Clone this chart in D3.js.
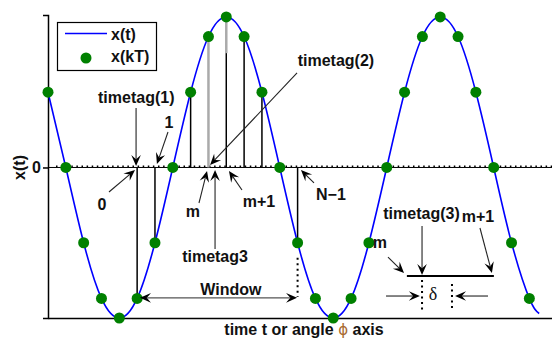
<!DOCTYPE html>
<html><head><meta charset="utf-8">
<script src="https://cdn.jsdelivr.net/npm/d3@7"></script>
<style>
html,body{margin:0;padding:0;background:#fff;}
svg{display:block;}
text{font-family:"Liberation Sans",Arial,Helvetica,sans-serif;font-weight:bold;font-size:16px;fill:#111;}
</style></head><body>
<svg id="c" width="552" height="340"></svg>
<script>
// ---- data (sample index k, value x(kT)) ----
const sampleIdx = [-10,-9,-8,-7,-6,-5,-4,-3,-2,-1,0,1,2,3,4,5,6,7,8,9,10,11,12,13,14,15,16,17];
const sampleVal = [0.5,0,-0.5,-0.87,-1,-0.87,-0.5,0,0.5,0.87,1,0.87,0.5,0,-0.5,-0.87,-1,-0.87,-0.5,0,0.5,0.87,1,0.87,0.5,0,-0.5,-0.87];
const curveEndIdx = [17.55];
const curveEndVal = [-0.97];
const stemIdx = [-5,-4,-2,-1,0,1,2,4];
const grayStemIdx = [-1];
const peakGrayFrom = [0.76];
const yTickValues = [0];
const yTickLabels = ["0"];
const legendLabels = ["x(t)", "x(kT)"];
const xDomain = [-10, 18.27];
const yDomain = [-1, 1.013];

// annotation texts: [text, k, value]
const annText = [
  ["timetag(1)", -5.05, 0.43],
  ["1", -3.21, 0.262],
  ["0", -6.97, -0.282],
  ["m", -1.87, -0.329],
  ["timetag3", -0.63, -0.628],
  ["m+1", 1.83, -0.262],
  ["N\u22121", 5.87, -0.216],
  ["Window", 0.26, -0.85],
  ["timetag(2)", 6.15, 0.674],
  ["timetag(3)", 10.95, -0.342],
  ["m+1", 14.12, -0.362],
  ["m", 8.62, -0.535]
];
// arrows: [k tail, v tail, k tip, v tip]
const annArrows = [
  [-5.06, 0.395, -5.06, 0.01],
  [-3.27, 0.236, -3.89, 0.023],
  [-6.58, -0.163, -5.12, -0.017],
  [3.97, 0.628, -0.91, 0.017],
  [-1.53, -0.236, -1.08, -0.023],
  [-0.63, -0.542, -0.63, -0.017],
  [0.88, -0.150, 0.15, -0.023],
  [4.92, -0.103, 4.19, -0.017],
  [10.98, -0.389, 10.98, -0.714],
  [14.23, -0.402, 14.90, -0.701],
  [9.07, -0.595, 9.97, -0.701],
  [8.96, -0.854, 10.86, -0.854],
  [14.68, -0.854, 12.83, -0.854]
];
const windowArrow = [-4.84, 3.97, -0.866];
const deltaBar = [10.13, 15.01, -0.721];
const dottedV = [[10.98, -0.748, -0.947],[12.66, -0.774, -0.947],[4.0, -0.60, -0.86]];
const deltaLabel = ["\u03b4", 11.59, -0.88];

// ---- chart ----
const svg = d3.select("#c");
const x = d3.scaleLinear().domain(xDomain).range([48, 552]);
const y = d3.scaleLinear().domain(yDomain).range([318, 15]);

// zero line
svg.append("line").attr("x1", x(xDomain[0])).attr("x2", x(xDomain[1]))
  .attr("y1", y(0)).attr("y2", y(0)).attr("stroke", "#000").attr("stroke-width", 1);
svg.append("line").attr("x1", x(xDomain[0]) + 8).attr("x2", x(xDomain[1]))
  .attr("y1", y(0) - 1.3).attr("y2", y(0) - 1.3).attr("stroke", "#000")
  .attr("stroke-width", 1.5).attr("stroke-dasharray", "1.5,3.6");

// axes
const gx = svg.append("g").attr("transform", `translate(0,${y(-1)})`)
  .call(d3.axisBottom(x).tickValues([]).tickSizeOuter(0));
gx.select(".domain").attr("stroke", "#000").attr("stroke-width", 1.5);
const gy = svg.append("g").attr("transform", `translate(${x(xDomain[0])},0)`)
  .call(d3.axisLeft(y).tickValues(yTickValues).tickFormat((d,i)=>yTickLabels[i]).tickSizeOuter(0).tickSize(5).tickPadding(2));
gy.select(".domain").attr("stroke", "#000").attr("stroke-width", 1.5);
gy.selectAll(".tick line").attr("stroke", "#000").attr("stroke-width", 1.5);
gy.selectAll(".tick text").style("font-family", '"Liberation Sans",Arial,sans-serif')
  .style("font-weight", "bold").style("font-size", "16px").attr("fill", "#111");

svg.append("text").attr("transform", `translate(25,${y(0)}) rotate(-90)`)
  .attr("text-anchor", "middle").text("x(t)");

const xl = svg.append("text").attr("x", 304).attr("y", 335).attr("text-anchor", "middle");
xl.append("tspan").text("time t or angle ");
xl.append("tspan").text("\u03d5").style("font-weight", "normal").style("font-family", '"DejaVu Sans",sans-serif').style("font-size","15px").attr("fill", "#a86a30");
xl.append("tspan").text(" axis");

// stems
stemIdx.forEach(k => {
  const i = sampleIdx.indexOf(k);
  const v = sampleVal[i];
  const gray = grayStemIdx.includes(k);
  if (k === 0) {
    svg.append("line").attr("x1", x(k)).attr("x2", x(k)).attr("y1", y(0)).attr("y2", y(peakGrayFrom[0]))
      .attr("stroke", "#000").attr("stroke-width", 1.5);
    svg.append("line").attr("x1", x(k)).attr("x2", x(k)).attr("y1", y(peakGrayFrom[0])).attr("y2", y(v))
      .attr("stroke", "#aaa").attr("stroke-width", 2.5);
  } else {
    svg.append("line").attr("x1", x(k)).attr("x2", x(k)).attr("y1", y(0)).attr("y2", y(v))
      .attr("stroke", gray ? "#aaa" : "#000").attr("stroke-width", gray ? 2.5 : 1.5);
  }
});

// curve
const curvePts = sampleIdx.map((k,i)=>[k, sampleVal[i]]).concat(curveEndIdx.map((k,i)=>[k, curveEndVal[i]]));
svg.append("path").datum(curvePts)
  .attr("d", d3.line().x(d=>x(d[0])).y(d=>y(d[1])).curve(d3.curveNatural))
  .attr("fill", "none").attr("stroke", "#0000ff").attr("stroke-width", 1.6);

// dots
svg.selectAll("circle.s").data(sampleIdx).join("circle").attr("class", "s")
  .attr("cx", d=>x(d)).attr("cy", (d,i)=>y(sampleVal[i])).attr("r", 5.5).attr("fill", "#008000");

// arrow helper
function head(x1,y1,x2,y2,col){
  const L = 11, W = 4.8;
  const dx = x2-x1, dy = y2-y1, len = Math.hypot(dx,dy);
  const ux = dx/len, uy = dy/len, nx = -uy, ny = ux;
  const bx = x2 - L*ux, by = y2 - L*uy;
  const p = [[x2,y2],[bx+W*nx, by+W*ny],[x2-0.62*L*ux, y2-0.62*L*uy],[bx-W*nx, by-W*ny]];
  svg.append("path").attr("d", "M" + p.map(q=>q.join(",")).join("L") + "Z").attr("fill", col || "#000");
  return [x2-0.62*L*ux, y2-0.62*L*uy];
}
function arrow(k1,v1,k2,v2){
  const x1=x(k1), y1=y(v1), x2=x(k2), y2=y(v2);
  const e = head(x1,y1,x2,y2);
  svg.append("line").attr("x1", x1).attr("y1", y1).attr("x2", e[0]).attr("y2", e[1])
    .attr("stroke", "#222").attr("stroke-width", 1.1);
}
annArrows.forEach(a => arrow(...a));

// window arrow (double)
{
  const xa = x(windowArrow[0]), xb = x(windowArrow[1]), yy = y(windowArrow[2]);
  const e1 = head(xb, yy, xa, yy), e2 = head(xa, yy, xb, yy);
  svg.append("line").attr("x1", e1[0]).attr("x2", e2[0]).attr("y1", yy).attr("y2", yy)
    .attr("stroke", "#555").attr("stroke-width", 1.2);
}

// delta bar & dotted lines
svg.append("line").attr("x1", x(deltaBar[0])).attr("x2", x(deltaBar[1]))
  .attr("y1", y(deltaBar[2])).attr("y2", y(deltaBar[2])).attr("stroke", "#000").attr("stroke-width", 2);
dottedV.forEach(d => {
  svg.append("line").attr("x1", x(d[0])).attr("x2", x(d[0])).attr("y1", y(d[1])).attr("y2", y(d[2]))
    .attr("stroke", "#000").attr("stroke-width", 2).attr("stroke-dasharray", "2,3.5");
});

// texts
annText.forEach(t => {
  svg.append("text").attr("x", x(t[1])).attr("y", y(t[2])).attr("text-anchor", "middle").text(t[0]);
});
svg.append("text").attr("x", x(deltaLabel[1])).attr("y", y(deltaLabel[2])).attr("text-anchor", "middle")
  .style("font-weight", "normal").style("font-family", '"Liberation Serif",serif').style("font-size", "18px")
  .attr("fill", "#a86a30").text(deltaLabel[0]);

// legend
const lg = svg.append("g");
lg.append("rect").attr("x", 57.5).attr("y", 22.5).attr("width", 99).attr("height", 48)
  .attr("fill", "#fff").attr("stroke", "#000").attr("stroke-width", 1.2);
lg.append("line").attr("x1", 65).attr("x2", 107).attr("y1", 33.5).attr("y2", 33.5)
  .attr("stroke", "#0000ff").attr("stroke-width", 1.6);
lg.append("circle").attr("cx", 86).attr("cy", 58).attr("r", 5.5).attr("fill", "#008000");
lg.append("text").attr("x", 111).attr("y", 40).text(legendLabels[0]);
lg.append("text").attr("x", 111).attr("y", 62).text(legendLabels[1]);
</script>
</body></html>
